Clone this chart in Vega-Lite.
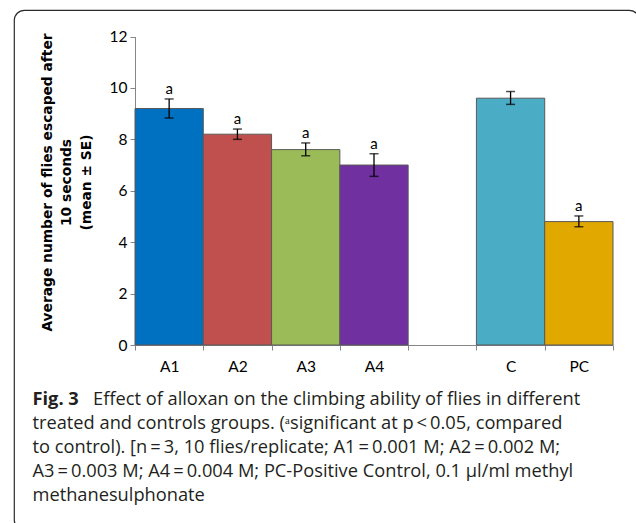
{
  "$schema": "https://vega.github.io/schema/vega-lite/v6.json",
  "width": 625,
  "height": 520,
  "autosize": {"type": "none"},
  "padding": {"left": 14, "top": 10, "right": 0, "bottom": 0},
  "background": "white",
  "view": {"stroke": "#2b2b2b", "strokeWidth": 1.2, "cornerRadius": 10, "fill": "white"},
  "data": {
    "values": [
      {"group": "A1", "mean": 9.2, "lo": 8.83, "hi": 9.57, "sig": "a"},
      {"group": "A2", "mean": 8.2, "lo": 8.0, "hi": 8.4, "sig": "a"},
      {"group": "A3", "mean": 7.6, "lo": 7.36, "hi": 7.86, "sig": "a"},
      {"group": "A4", "mean": 7.0, "lo": 6.56, "hi": 7.44, "sig": "a"},
      {"group": "C", "mean": 9.6, "lo": 9.36, "hi": 9.86, "sig": ""},
      {"group": "PC", "mean": 4.8, "lo": 4.6, "hi": 5.02, "sig": "a"}
    ]
  },
  "resolve": {"axis": {"x": "independent", "y": "independent"}},
  "layer": [
    {
      "mark": {"type": "bar", "stroke": "#595959", "strokeWidth": 1},
      "encoding": {
        "x": {
          "field": "group", "type": "nominal",
          "scale": {"domain": ["A1", "A2", "A3", "A4", "gap", "C", "PC"], "range": [121, 599], "paddingInner": 0, "paddingOuter": 0},
          "axis": {
            "orient": "bottom", "offset": -185, "grid": false,
            "domainColor": "#868686", "tickColor": "#868686", "tickSize": 5, "tickBand": "extent",
            "labelFont": "Lato", "labelFontSize": 15.5, "labelColor": "#000000", "labelPadding": 9, "labelAngle": 0,
            "labelExpr": "datum.value == 'gap' ? '' : datum.value",
            "title": [
              "treated and controls groups. (ᵃsignificant at p\u2009<\u20090.05, compared",
              "to control). [n\u2009=\u20093, 10 flies/replicate; A1\u2009=\u20090.001 M; A2\u2009=\u20090.002 M;",
              "A3\u2009=\u20090.003 M; A4\u2009=\u20090.004 M; PC-Positive Control, 0.1 µl/ml methyl",
              "methanesulphonate"
            ],
            "titleFont": "Open Sans", "titleFontSize": 18.25, "titleFontWeight": "normal", "titleColor": "#231f20",
            "titleLineHeight": 24, "titleX": 18, "titleY": 83, "titleAlign": "left", "titleBaseline": "alphabetic", "titleAngle": 0
          }
        },
        "y": {
          "field": "mean", "type": "quantitative",
          "scale": {"domain": [0, 12], "range": [335, 26.5], "nice": false},
          "axis": {
            "orient": "left", "offset": -121, "grid": false, "values": [0, 2, 4, 6, 8, 10, 12],
            "domainColor": "#868686", "tickColor": "#868686", "tickSize": 5,
            "labelFont": "Lato", "labelFontSize": 15.5, "labelColor": "#000000", "labelPadding": 3,
            "title": ["Average number of flies escaped after", "10 seconds", "(mean ± SE)"],
            "titleFont": "DejaVu Sans", "titleFontSize": 13.8, "titleFontWeight": "bold", "titleColor": "#000000",
            "titleLineHeight": 19.5, "titleAngle": -90, "titleX": -88, "titleY": 172, "titleAlign": "center", "titleBaseline": "middle"
          }
        },
        "color": {
          "field": "group", "type": "nominal",
          "scale": {"domain": ["A1", "A2", "A3", "A4", "C", "PC"], "range": ["#0070C0", "#C0504D", "#9BBB59", "#7030A0", "#4BACC6", "#E1A800"]},
          "legend": null
        }
      }
    },
    {
      "mark": {"type": "rule", "color": "#000000", "strokeWidth": 1.3},
      "encoding": {
        "x": {
          "field": "group", "type": "nominal",
          "axis": {
            "orient": "top", "domain": false, "ticks": false, "labels": false, "grid": false,
            "title": "Effect of alloxan on the climbing ability of flies in different",
            "titleFont": "Open Sans", "titleFontSize": 18.25, "titleFontWeight": "normal", "titleColor": "#231f20",
            "titleX": 78.5, "titleY": 394, "titleAlign": "left", "titleBaseline": "alphabetic", "titleAngle": 0
          }
        },
        "y": {
          "field": "lo", "type": "quantitative",
          "axis": {
            "orient": "right", "domain": false, "ticks": false, "labels": false, "grid": false,
            "title": "Fig. 3",
            "titleFont": "Open Sans", "titleFontSize": 18.25, "titleFontWeight": "bold", "titleColor": "#231f20",
            "titleX": -607, "titleY": 394, "titleAlign": "left", "titleBaseline": "alphabetic", "titleAngle": 0
          }
        },
        "y2": {"field": "hi"}
      }
    },
    {
      "mark": {"type": "tick", "color": "#000000", "thickness": 1.5, "size": 9},
      "encoding": {
        "x": {"field": "group", "type": "nominal", "axis": null},
        "y": {"field": "lo", "type": "quantitative", "axis": null}
      }
    },
    {
      "mark": {"type": "tick", "color": "#000000", "thickness": 1.5, "size": 9},
      "encoding": {
        "x": {"field": "group", "type": "nominal", "axis": null},
        "y": {"field": "hi", "type": "quantitative", "axis": null}
      }
    },
    {
      "mark": {"type": "text", "font": "Lato", "fontSize": 15, "color": "#000000", "baseline": "alphabetic", "dy": -5},
      "encoding": {
        "x": {"field": "group", "type": "nominal", "axis": null},
        "y": {"field": "hi", "type": "quantitative", "axis": null},
        "text": {"field": "sig"}
      }
    }
  ]
}
